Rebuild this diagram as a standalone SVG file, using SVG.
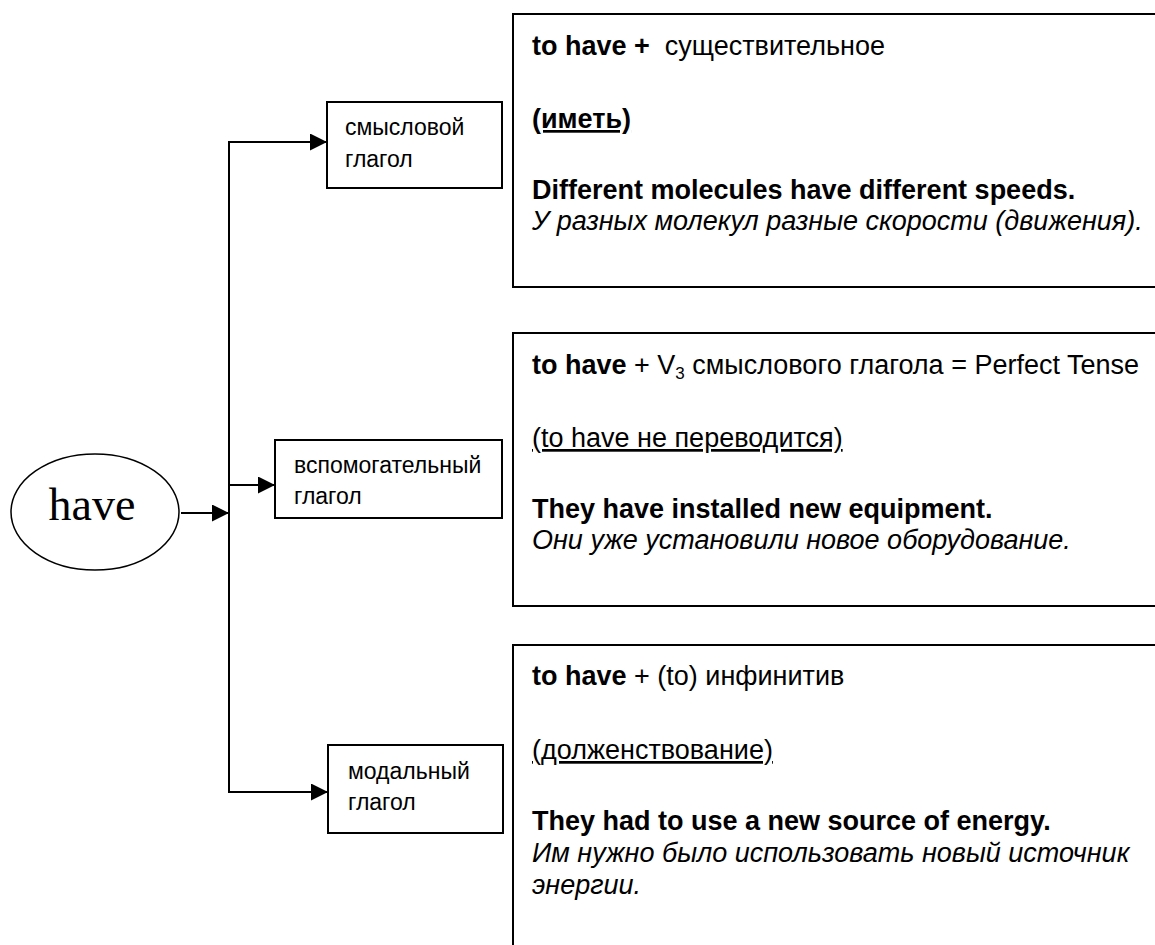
<svg xmlns="http://www.w3.org/2000/svg" width="1155" height="945" viewBox="0 0 1155 945">
<defs>
<style>
.box{fill:#fff;stroke:#000;stroke-width:2}
.con{fill:none;stroke:#000;stroke-width:2}
.lbl{font-family:"Liberation Sans",Arial,sans-serif;font-size:23px;fill:#000}
.t{font-family:"Liberation Sans",Arial,sans-serif;font-size:27px;fill:#000}
.b{font-weight:bold}
.i{font-style:italic}
.u{text-decoration:underline}
</style>
<marker id="ah" markerUnits="userSpaceOnUse" markerWidth="18" markerHeight="17" refX="17" refY="8.5" orient="auto">
<path d="M0,0 L17,8.5 L0,17 z" fill="#000"/>
</marker>
</defs>
<rect width="1155" height="945" fill="#fff"/>

<g id="connectors">
<path class="con" d="M181,513 H229" marker-end="url(#ah)"/>
<path class="con" d="M229,513 V142 H327" marker-end="url(#ah)"/>
<path class="con" d="M229,513 V792 H328" marker-end="url(#ah)"/>
<path class="con" d="M229,485 H275" marker-end="url(#ah)"/>
</g>

<g id="have">
<ellipse cx="95" cy="512" rx="84" ry="58" fill="#fff" stroke="#000" stroke-width="1.5"/>
<text x="92" y="520" text-anchor="middle" font-family="'Liberation Serif','Times New Roman',serif" font-size="46">have</text>
</g>

<g id="n-smyslovoy">
<rect class="box" x="327" y="102" width="175" height="86"/>
<text class="lbl" x="345" y="135">смысловой</text>
<text class="lbl" x="345" y="167">глагол</text>
</g>

<g id="n-vspomog">
<rect class="box" x="275" y="440" width="227" height="78"/>
<text class="lbl" x="294" y="473">вспомогательный</text>
<text class="lbl" x="294" y="504">глагол</text>
</g>

<g id="n-modal">
<rect class="box" x="328" y="745" width="175" height="88"/>
<text class="lbl" x="348" y="779">модальный</text>
<text class="lbl" x="348" y="810">глагол</text>
</g>

<g id="d-1">
<rect class="box" x="513" y="14" width="660" height="273"/>
<text class="t" x="532" y="55"><tspan class="b">to have +</tspan>&#160; существительное</text>
<text class="t b u" x="532" y="128">(иметь)</text>
<text class="t b" x="532" y="199">Different molecules have different speeds.</text>
<text class="t i" x="532" y="230">У разных молекул разные скорости (движения).</text>
</g>

<g id="d-2">
<rect class="box" x="513" y="333" width="660" height="273"/>
<text class="t" x="532" y="374"><tspan class="b">to have</tspan> + V<tspan font-size="17" dy="5">3</tspan><tspan dy="-5"> смыслового глагола = Perfect Tense</tspan></text>
<text class="t u" x="532" y="447">(to have не переводится)</text>
<text class="t b" x="532" y="518">They have installed new equipment.</text>
<text class="t i" x="532" y="549">Они уже установили новое оборудование.</text>
</g>

<g id="d-3">
<rect class="box" x="513" y="645" width="660" height="320"/>
<text class="t" x="532" y="685"><tspan class="b">to have</tspan> + (to) инфинитив</text>
<text class="t u" x="532" y="759">(долженствование)</text>
<text class="t b" x="532" y="830">They had to use a new source of energy.</text>
<text class="t i" x="532" y="862">Им нужно было использовать новый источник</text>
<text class="t i" x="532" y="894">энергии.</text>
</g>
</svg>
